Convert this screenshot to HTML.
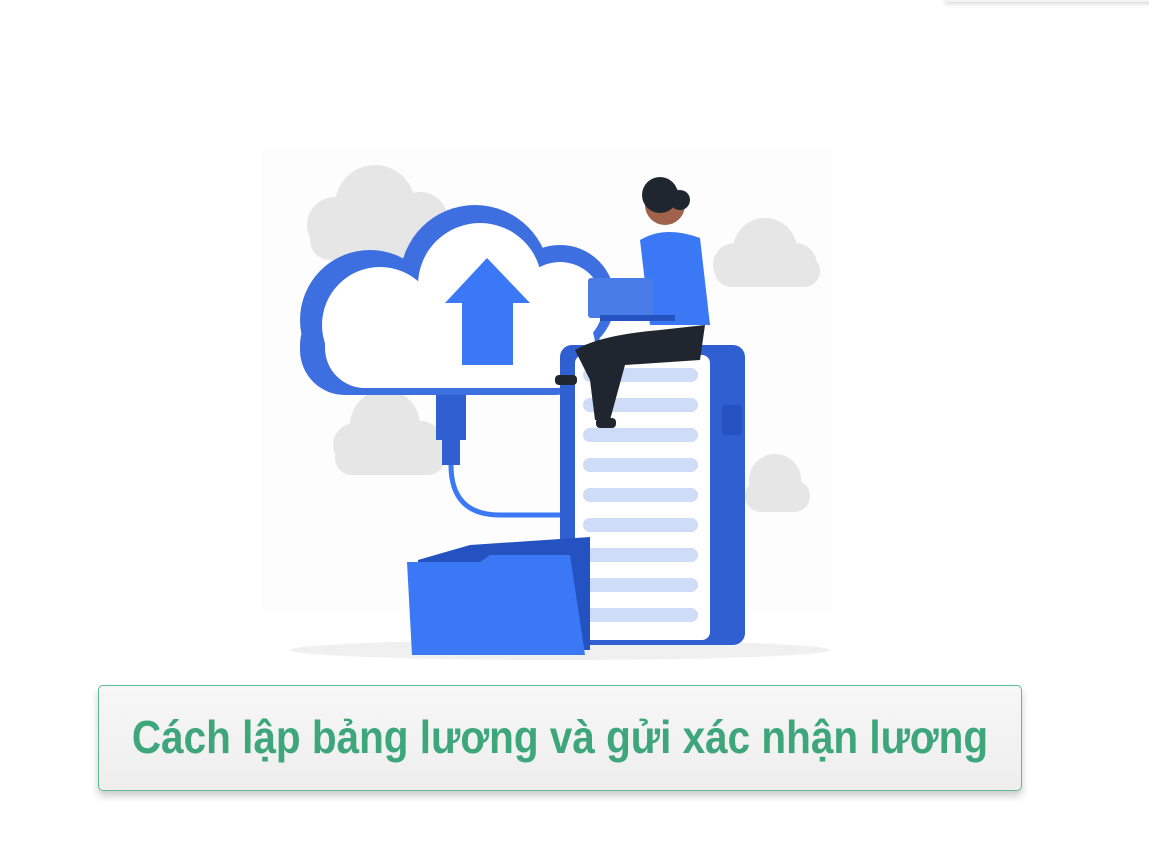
<!DOCTYPE html>
<html><head><meta charset="utf-8"><style>
html,body{margin:0;padding:0;background:#fff;width:1149px;height:859px;overflow:hidden;position:relative;font-family:"Liberation Sans",sans-serif}
.topbar{position:absolute;left:945px;top:-10px;width:220px;height:12px;background:#f4f4f4;box-shadow:0 2px 4px rgba(0,0,0,.15)}
.box{position:absolute;left:98px;top:685px;width:922px;height:104px;border:1.5px solid #5dbb95;border-radius:5px;background:linear-gradient(#f7f7f7,#eeeeee);box-shadow:0 5px 8px rgba(0,0,0,.2)}
.t{position:absolute;left:461px;top:24px;white-space:nowrap;font-weight:bold;font-size:46px;color:#3ea67b;line-height:54px;transform:translateX(-50%) scaleX(0.88);transform-origin:center}
</style></head><body>
<div class="topbar"></div>
<svg width="1149" height="680" style="position:absolute;left:0;top:0">
<rect x="262" y="150" width="570" height="460" fill="#fdfdfd"/>
<g fill="#e6e6e6">
<circle cx="375" cy="205" r="40"/><circle cx="335" cy="225" r="28"/><circle cx="420" cy="220" r="28"/><rect x="310" y="220" width="140" height="40" rx="20"/>
<circle cx="765" cy="250" r="32"/><circle cx="735" cy="265" r="22"/><circle cx="795" cy="265" r="22"/><rect x="715" y="255" width="105" height="32" rx="16"/>
<circle cx="385" cy="425" r="35"/><circle cx="355" cy="445" r="22"/><circle cx="420" cy="445" r="24"/><rect x="335" y="440" width="110" height="35" rx="17"/>
<circle cx="775" cy="480" r="26"/><rect x="745" y="480" width="65" height="32" rx="16"/>
</g>
<ellipse cx="560" cy="650" rx="270" ry="10" fill="#f0f0f0"/>
<g fill="#3d6fe0">
<circle cx="475" cy="280" r="75"/><circle cx="370" cy="320" r="70"/><circle cx="560" cy="300" r="55"/><rect x="300" y="300" width="300" height="95" rx="45"/>
</g>
<g fill="#fff">
<circle cx="480" cy="285" r="62"/><circle cx="380" cy="325" r="58"/><circle cx="560" cy="305" r="43"/><rect x="325" y="305" width="270" height="83" rx="40"/>
</g>
<polygon points="487,258 445,303 462,303 462,365 513,365 513,303 530,303" fill="#3b78f5"/>
<rect x="436" y="395" width="30" height="45" fill="#2f5fd0"/>
<rect x="442" y="440" width="18" height="25" fill="#2f5fd0"/>
<path d="M451 465 Q451 515 500 515 L580 515" stroke="#3b78f5" stroke-width="5" fill="none"/>
<rect x="560" y="345" width="185" height="300" rx="12" fill="#2f5fd0"/>
<rect x="575" y="355" width="135" height="285" rx="8" fill="#fff"/>
<rect x="722" y="405" width="20" height="30" rx="3" fill="#2452c0"/>
<g fill="#cfdcf8">
<rect x="583" y="368" width="115" height="14" rx="7"/><rect x="583" y="398" width="115" height="14" rx="7"/><rect x="583" y="428" width="115" height="14" rx="7"/><rect x="583" y="458" width="115" height="14" rx="7"/><rect x="583" y="488" width="115" height="14" rx="7"/><rect x="583" y="518" width="115" height="14" rx="7"/><rect x="583" y="548" width="115" height="14" rx="7"/><rect x="583" y="578" width="115" height="14" rx="7"/><rect x="583" y="608" width="115" height="14" rx="7"/>
</g>
<path d="M418 560 L470 545 L590 537 L590 650 L418 650 Z" fill="#2452c0"/>
<path d="M407 562 L480 562 L490 555 L570 555 L585 655 L412 655 Z" fill="#3b78f5"/>
<path d="M575 350 Q600 335 660 330 L705 325 L700 360 L625 365 L610 420 L595 420 L590 380 Z" fill="#1f2630"/>
<rect x="596" y="418" width="20" height="10" rx="4" fill="#1f2630"/>
<rect x="555" y="375" width="22" height="10" rx="4" fill="#1f2630"/>
<path d="M640 240 Q665 225 700 238 L710 325 L650 325 Z" fill="#3b78f5"/>
<circle cx="665" cy="205" r="20" fill="#a0624a"/>
<circle cx="660" cy="195" r="18" fill="#1f2630"/>
<circle cx="680" cy="200" r="10" fill="#1f2630"/>
<rect x="588" y="278" width="65" height="40" rx="3" fill="#4a7ce8"/>
<rect x="600" y="315" width="75" height="6" fill="#2452c0"/>
</svg>
<div class="box"><div class="t">Cách lập bảng lương và gửi xác nhận lương</div></div>
</body></html>
